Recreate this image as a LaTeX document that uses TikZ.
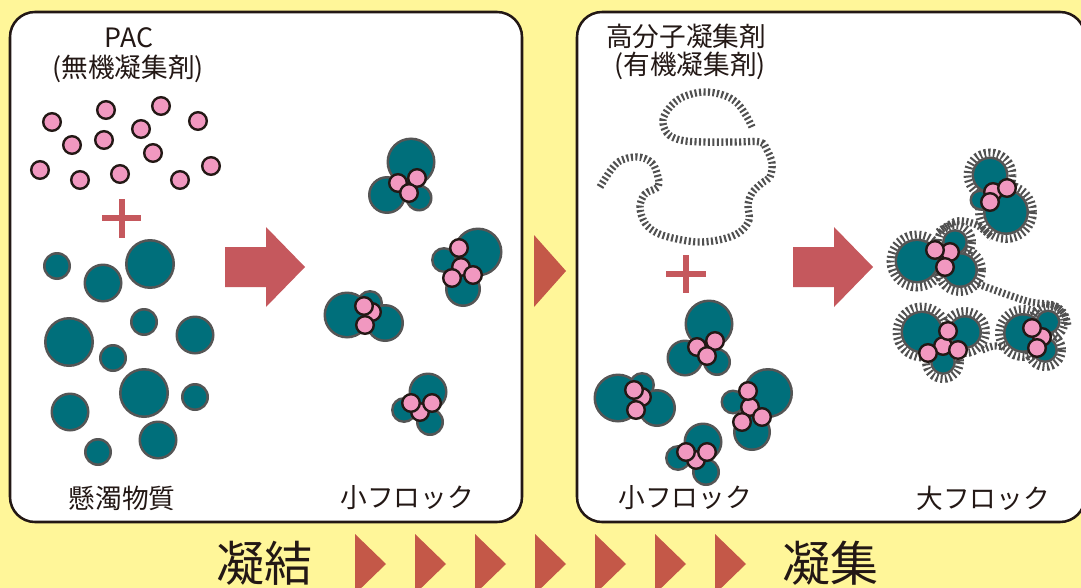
\documentclass[tikz,border=0pt]{standalone}
\usepackage{fontspec}
\newfontfamily\jpfont{Noto Sans CJK JP}
\definecolor{bgyellow}{RGB}{255,246,153}
\definecolor{ink}{RGB}{35,24,21}
\definecolor{tealc}{RGB}{0,111,123}
\definecolor{edgegray}{RGB}{85,85,85}
\definecolor{hair}{RGB}{80,80,80}
\definecolor{pinkc}{RGB}{241,152,192}
\definecolor{arrowred}{RGB}{197,88,93}
\definecolor{trired}{RGB}{196,88,72}

% teal particles: outline pass first, then fill pass, so touching particles share one outline
\newcommand\tealgroup[1]{%
  \foreach \px/\py/\pr in {#1} \fill[edgegray] (\px,\py) circle[radius=\pr];
  \foreach \px/\py/\pr in {#1} \fill[tealc] (\px,\py) circle[radius={\pr-2.6}];
}
% coagulant particles
\newcommand\pinkgroup[1]{%
  \foreach \px/\py in {#1} \draw[pinkball] (\px,\py) circle[radius=8.8];
}
% polymer coat around a particle
\newcommand\halogroup[1]{%
  \foreach \px/\py/\pr in {#1} \draw[hatch] (\px,\py) circle[radius={\pr+4}];
}

\begin{document}
\begin{tikzpicture}[x=0.75pt,y=-0.75pt,
  panel/.style={draw=ink, line width=1.9pt, fill=white, rounded corners=18.75pt},
  pinkball/.style={fill=pinkc, draw=ink, line width=1.8pt},
  hatch/.style={draw=hair, line width=6pt, dash pattern=on 1.5pt off 1.9pt},
  strand/.style={draw=hair, line width=5.5pt, dash pattern=on 1.55pt off 1.8pt},
  bigarrow/.style={fill=arrowred},
  stepmark/.style={fill=trired},
  plusbar/.style={fill=arrowred},
  lbl/.style={font=\jpfont\fontsize{20pt}{24pt}\selectfont, text=ink, inner sep=0pt},
  headlbl/.style={font=\jpfont\fontsize{36pt}{40pt}\selectfont, text=ink, inner sep=0pt}]

\useasboundingbox (0,0) rectangle (1081,588);
\fill[bgyellow] (0,0) rectangle (1081,588);

\begin{scope}
\clip (0,0) rectangle (1081,588);

% ---------- panels ----------
\draw[panel] (10,12) rectangle (522,522);
\draw[panel] (577,12) rectangle (1085,522);

% ---------- panel 1 : inorganic coagulant ----------
\node[lbl] (pac) at (129,38) {PAC};
\node[lbl] (pacsub) at (128,69) {(無機凝集剤)};

\pinkgroup{52/122,106/110,161/106,198/121,72/145,104/140,141/129,153/153,
  40/170,80/180,120/174,180/180,211/166}

\fill[plusbar] (102,215) rectangle (141,221);
\fill[plusbar] (119,199) rectangle (125,238);

\tealgroup{57/266/14,103/283/19.5,150/264/25,69/342/25,144/322/14,195/335/19.5,
  113/358/14,144/393/25,195/397/14,70/412/19.5,158/440/19.5,98/452/14}

\node[lbl] (suspended) at (122,498) {懸濁物質};

\fill[bigarrow] (225,247) -- (266,247) -- (266,227) -- (305,267) -- (266,307)
  -- (266,287) -- (225,287) -- cycle;

% small flocs
\tealgroup{411/162/24.5,387/195/19,419/198/13.5}
\pinkgroup{398/183,417/178,409/193}
\tealgroup{478/252/24.5,444/260/13,463/289/18}
\pinkgroup{461/267,459/248,452/278,473/275}
\tealgroup{347/315/23.5,385/323/19,370/303/13}
\pinkgroup{372/312,364/306,365/325}
\tealgroup{428/392/19.5,404/410/13,430/422/14}
\pinkgroup{420/412,411/403,432/403}

\node[lbl] (smallfloc1) at (407,498) {小フロック};

% ---------- arrow between panels ----------
\fill[stepmark] (534,235) -- (566,271) -- (534,307) -- cycle;

% ---------- panel 2 : polymer flocculant ----------
\node[lbl] (poly) at (686,36) {高分子凝集剤};
\node[lbl] (polysub) at (690,66) {(有機凝集剤)};

\draw[strand] plot[smooth, tension=0.6] coordinates {
  (600,187) (617,163) (637,157) (652,163) (658,177) (658,187)
  (645,194) (640,207) (645,223) (657,233) (677,239) (700,242) (723,239)
  (740,232) (749,220) (748,205) (752,193) (762,183) (770,177) (772,163)
  (767,150) (760,142) (737,142) (703,142) (680,140) (667,133) (663,120)
  (670,107) (683,97) (703,92) (723,95) (737,103) (747,117) (752,127)};

\fill[plusbar] (666,271) rectangle (706,277);
\fill[plusbar] (683,255) rectangle (689,293);

\tealgroup{709/324/24.5,685/358/18.5,717/362/14}
\pinkgroup{697/347,715/341,707/356}
\tealgroup{618/398/24.5,657/408/19,642/385/13}
\pinkgroup{642/397,634/390,636/410}
\tealgroup{768/393/25,733/402/12.5,752/432/19}
\pinkgroup{750/407,748/391,742/422,762/417}
\tealgroup{703/442/19.5,678/458/13,706/472/14}
\pinkgroup{696/460,686/452,707/452}

\node[lbl] (smallfloc2) at (685,498) {小フロック};

\fill[bigarrow] (793,247) -- (834,247) -- (834,227) -- (873,267) -- (834,307)
  -- (834,287) -- (793,287) -- cycle;

% large flocs bridged by polymer
\draw[strand] plot[smooth] coordinates {(938,232) (957,221) (977,225) (992,238)};
\draw[strand] plot[smooth] coordinates {(978,284) (1000,292) (1030,302) (1053,305) (1064,313) (1068,326)};
\draw[strand] plot[smooth] coordinates {(982,350) (993,346) (1005,347)};

\halogroup{990/175/18.5,1006/212/23}
\halogroup{917/261/22.5,955/242/13,960/270/18}
\halogroup{922/332/21.5,965/332/17,943/362/13}
\halogroup{1023/333/20,1048/322/12.5,1045/350/13}

\tealgroup{990/175/18.5,980/200/10.5,1006/212/23}
\pinkgroup{993/192,1007/188,990/202}
\tealgroup{917/261/22.5,955/242/13,960/270/18}
\pinkgroup{950/252,935/250,945/267}
\tealgroup{922/332/21.5,965/332/17,943/362/13}
\pinkgroup{943/346,948/331,928/353,958/350}
\tealgroup{1023/333/20,1048/322/12.5,1045/350/13}
\pinkgroup{1042/337,1032/328,1037/348}

\node[lbl] (largefloc) at (983,498) {大フロック};

% ---------- process bar ----------
\node[headlbl] (coag) at (264,563) {凝結};
\node[headlbl] (flocc) at (830,563) {凝集};
\foreach \k in {0,...,6}
  \fill[stepmark] ({355+60*\k},534) -- ({386+60*\k},564) -- ({355+60*\k},594) -- cycle;
\end{scope}
\end{tikzpicture}
\end{document}
